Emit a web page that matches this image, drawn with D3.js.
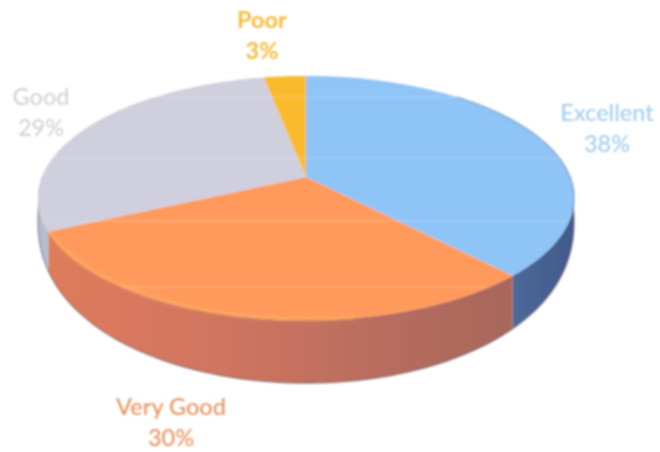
<!DOCTYPE html>
<html><head><meta charset="utf-8">
<script src="https://cdn.jsdelivr.net/npm/d3@7/dist/d3.min.js"></script>
<style>html,body{margin:0;padding:0;background:#fff}svg{display:block}</style></head>
<body><svg id="c" width="660" height="452"></svg>
<script>
const categories = ["Excellent","Very Good","Good","Poor"];
const values = [38,30,29,3];
const topColors = ["#8FC4F6","#FF9A5B","#CFCFDD","#FBBA2F"];
const sideColors = ["url(#sideBlue)","url(#sideOrange)","#B4BED2","#C9962F"];
const labelColors = ["#A3CDF0","#E8935F","#D2D2D2","#F6BC3E"];
const labelPos = [[607,114],[171,408],[41,98],[262,21]];
const scanLines = [97,158,221,287];

const svg = d3.select("#c"), W = 660;
const defs = svg.append("defs");
function grad(id,stops){
  const g = defs.append("linearGradient").attr("id",id).attr("gradientUnits","userSpaceOnUse")
    .attr("x1",40).attr("x2",575).attr("y1",0).attr("y2",0);
  stops.forEach(s=>g.append("stop").attr("offset",s[0]).attr("stop-color",s[1]));
}
grad("sideOrange",[[0,"#E07C5C"],[0.35,"#CF7560"],[0.7,"#B46B5E"],[0.9,"#A5685A"]]);
grad("sideBlue",[[0.85,"#4F6D9F"],[1,"#41598A"]]);
defs.append("filter").attr("id","soft").append("feGaussianBlur").attr("stdDeviation",0.8);
defs.append("filter").attr("id","soft2").attr("x","-20%").attr("width","140%").append("feGaussianBlur").attr("stdDeviation",1.6);

// projection of the tilted disc
const k = 0.172;
const sx = d3.scaleLinear().domain([-1,1]).range([42,570]);
const sy = d3.scaleLinear().domain([-1,1]).range([295.5,58.5]);
const project = (a,r=1)=>{
  const u=Math.sin(a)*r, v=Math.cos(a)*r, s=1/(1+k*v);
  return [306+(sx(u)-306)*s, 177+(sy(v)-177)*s];
};
const maxDepth = 63;
const lower = a=>{
  const p=project(a), v=Math.cos(a);
  return [p[0], p[1]+(v<0?maxDepth*Math.pow(-v,0.55):0)];
};
const line = d3.line();
const pie = d3.pie().sort(null).value(d=>d);
const arcs = pie(values);
const samples = (a0,a1)=>d3.range(0,61).map(i=>a0+(a1-a0)*i/60);

const g = svg.append("g").attr("filter","url(#soft)");
// side walls
g.selectAll("path.side").data(arcs).join("path").attr("class","side")
  .attr("d",d=>{
    const as=samples(d.startAngle,d.endAngle);
    return line(as.map(a=>project(a)).concat(as.slice().reverse().map(lower)))+"Z";
  })
  .attr("fill",(d,i)=>sideColors[i]);
// dark lower outline
g.append("path").attr("fill","none").attr("stroke","#5E5058").attr("stroke-width",1.2).attr("stroke-opacity",.7)
  .attr("d",line(samples(Math.PI/2,3*Math.PI/2).map(lower)));
// top faces
g.selectAll("path.top").data(arcs).join("path").attr("class","top")
  .attr("d",d=>line([project(0,0)].concat(samples(d.startAngle,d.endAngle).map(a=>project(a))))+"Z")
  .attr("fill",(d,i)=>topColors[i]);
// dark edge along the upper right of the disc
g.append("path").attr("fill","none").attr("stroke","#5F87B5").attr("stroke-width",1.5).attr("stroke-opacity",.6)
  .attr("d",line(samples(0.7,1.85).map(a=>project(a))));
// light rim on the front edge
g.append("path").attr("fill","none").attr("stroke","#FFB060").attr("stroke-width",2.5).attr("stroke-opacity",.8)
  .attr("filter","url(#soft2)")
  .attr("d",line(samples(arcs[1].startAngle+0.6,arcs[1].endAngle).map(a=>project(a,0.995))));
// faint horizontal scan streaks over the disc
const topClip = defs.append("clipPath").attr("id","disc");
topClip.append("path").attr("d",line(samples(0,2*Math.PI).map(a=>project(a)))+"Z");
g.append("g").attr("clip-path","url(#disc)").selectAll("line").data(scanLines).join("line")
  .attr("x1",0).attr("x2",W).attr("y1",d=>d).attr("y2",d=>d)
  .attr("stroke","#fff").attr("stroke-opacity",.28).attr("stroke-width",1.2);

// labels
const lab = svg.append("g").attr("font-family","Lato, 'Open Sans', sans-serif").attr("font-size",23.5)
  .attr("text-anchor","middle").attr("filter","url(#soft)");
categories.forEach((c,i)=>{
  const t = lab.append("text").attr("fill",labelColors[i]).attr("font-weight",i===3?700:500);
  t.append("tspan").attr("x",labelPos[i][0]).attr("y",labelPos[i][1]+7).text(c);
  t.append("tspan").attr("x",labelPos[i][0]).attr("y",labelPos[i][1]+38).text(values[i]+"%");
});
</script></body></html>
